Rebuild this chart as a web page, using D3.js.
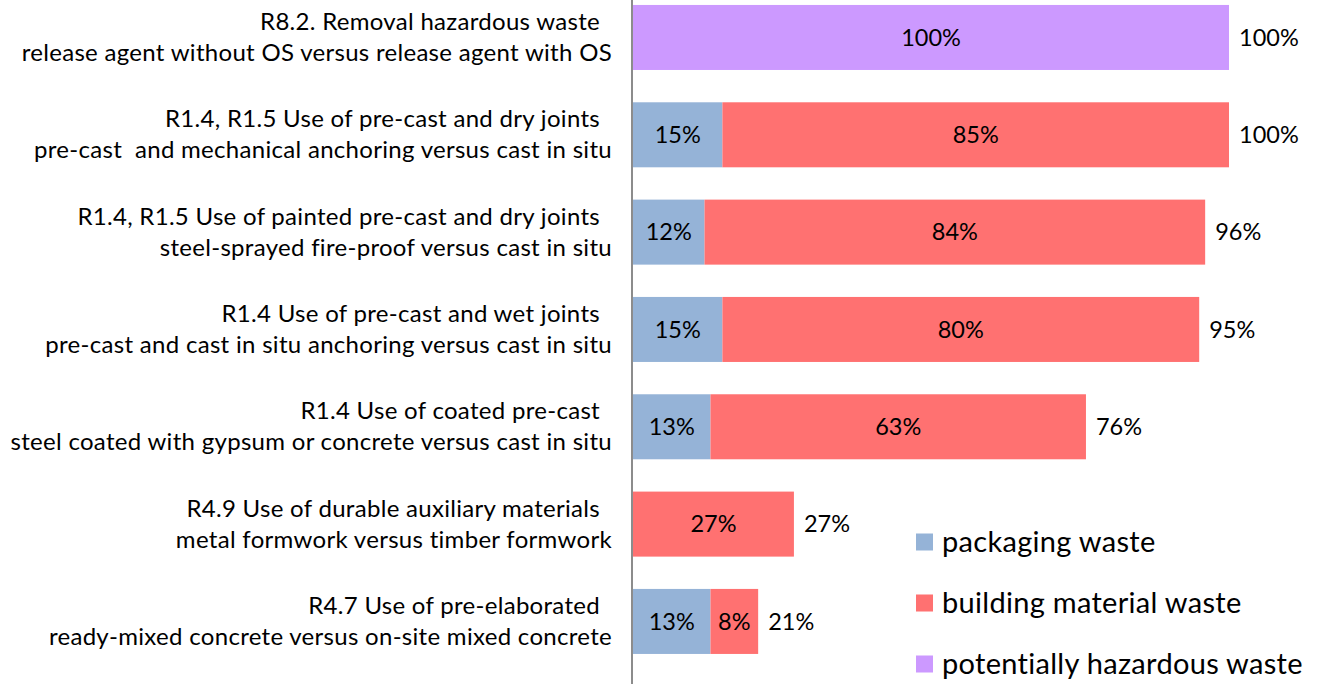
<!DOCTYPE html>
<html>
<head>
<meta charset="utf-8">
<script src="https://cdn.jsdelivr.net/npm/d3@7"></script>
<style>
  body { margin: 0; background: #fff; }
  text { font-family: Lato, "Open Sans", sans-serif; fill: #000; white-space: pre; }
</style>
</head>
<body>
<svg id="chart"></svg>
<script>
// categories, two lines each
var line1 = [
  "R8.2. Removal hazardous waste",
  "R1.4, R1.5 Use of pre-cast and dry joints",
  "R1.4, R1.5 Use of painted pre-cast and dry joints",
  "R1.4 Use of pre-cast and wet joints",
  "R1.4 Use of coated pre-cast",
  "R4.9 Use of durable auxiliary materials",
  "R4.7 Use of pre-elaborated"
];
var line2 = [
  "release agent without OS versus release agent with OS",
  "pre-cast  and mechanical anchoring versus cast in situ",
  "steel-sprayed fire-proof versus cast in situ",
  "pre-cast and cast in situ anchoring versus cast in situ",
  "steel coated with gypsum or concrete versus cast in situ",
  "metal formwork versus timber formwork",
  "ready-mixed concrete versus on-site mixed concrete"
];
var packaging = [0, 15, 12, 15, 13, 0, 13];
var building  = [0, 85, 84, 80, 63, 27, 8];
var hazardous = [100, 0, 0, 0, 0, 0, 0];
var totals    = [100, 100, 96, 95, 76, 27, 21];

var seriesNames = ["packaging waste", "building material waste", "potentially hazardous waste"];
var colors = ["#95b3d7", "#ff7171", "#cc99ff"];

var width = 1321, height = 684;
var svg = d3.select("#chart").attr("width", width).attr("height", height);

var x = d3.scaleLinear().domain([0, 100]).range([633, 1229]);
var y = d3.scaleBand()
  .domain(d3.range(line1.length))
  .range([-11.2, 670.1])
  .paddingInner(0.332)
  .paddingOuter(0.166);

var rows = line1.map(function (d, i) {
  return { i: i, packaging: packaging[i], building: building[i], hazardous: hazardous[i] };
});
var keys = ["packaging", "building", "hazardous"];
var stack = d3.stack().keys(keys)(rows);

var layers = svg.selectAll(".layer")
  .data(stack)
  .enter().append("g")
  .attr("class", "layer")
  .attr("fill", function (d, k) { return colors[k]; });

layers.selectAll("rect")
  .data(function (d) { return d.filter(function (s) { return s[1] - s[0] > 0; }); })
  .enter().append("rect")
  .attr("x", function (d) { return x(d[0]); })
  .attr("y", function (d) { return y(d.data.i); })
  .attr("width", function (d) { return x(d[1]) - x(d[0]); })
  .attr("height", y.bandwidth());

// segment labels
layers.selectAll("text")
  .data(function (d) { return d.filter(function (s) { return s[1] - s[0] > 0; }); })
  .enter().append("text")
  .attr("x", function (d) { return (x(d[0]) + x(d[1])) / 2; })
  .attr("y", function (d) { return y(d.data.i) + y.bandwidth() / 2; })
  .attr("dy", "0.35em")
  .attr("text-anchor", "middle")
  .style("font-size", "23.5px")
  .text(function (d) { return (d[1] - d[0]) + "%"; });

// totals
svg.selectAll(".total")
  .data(totals)
  .enter().append("text")
  .attr("class", "total")
  .attr("x", function (d) { return x(d) + 10; })
  .attr("y", function (d, i) { return y(i) + y.bandwidth() / 2; })
  .attr("dy", "0.35em")
  .style("font-size", "23.5px")
  .text(function (d) { return d + "%"; });

// axis line
svg.append("line")
  .attr("x1", 632).attr("x2", 632)
  .attr("y1", 0).attr("y2", height)
  .attr("stroke", "#8c8c8c")
  .attr("stroke-width", 2);

// category labels
var labels = svg.selectAll(".cat")
  .data(line1)
  .enter().append("text")
  .attr("class", "cat")
  .attr("text-anchor", "end")
  .style("font-size", "24px")
  .style("letter-spacing", "0.3px");
labels.append("tspan")
  .attr("x", 600)
  .attr("y", function (d, i) { return y(i) + y.bandwidth() / 2 - 16; })
  .attr("dy", "0.35em")
  .text(function (d) { return d; });
labels.append("tspan")
  .attr("x", 612)
  .attr("y", function (d, i) { return y(i) + y.bandwidth() / 2 + 15; })
  .attr("dy", "0.35em")
  .text(function (d, i) { return line2[i]; });

// legend
var legend = svg.selectAll(".legend")
  .data(seriesNames)
  .enter().append("g")
  .attr("class", "legend")
  .attr("transform", function (d, i) { return "translate(916," + (542 + i * 61) + ")"; });
legend.append("rect")
  .attr("x", 0).attr("y", -8.5)
  .attr("width", 17).attr("height", 17)
  .attr("fill", function (d, i) { return colors[i]; });
legend.append("text")
  .attr("x", 26)
  .attr("dy", "0.35em")
  .style("font-size", "29px")
  .style("letter-spacing", "0.3px")
  .text(function (d) { return d; });
</script>
</body>
</html>
